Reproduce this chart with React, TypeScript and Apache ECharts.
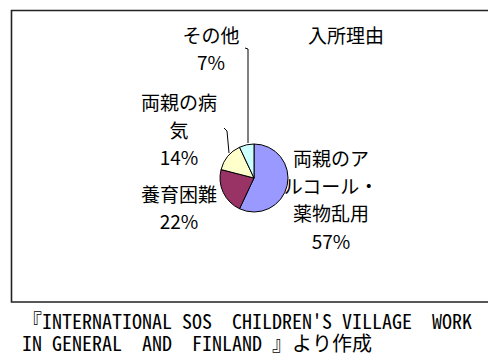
import React, { useEffect, useRef } from "react";
import * as echarts from "echarts";

const categories = [
  "両親のア\nルコール・\n薬物乱用",
  "養育困難",
  "両親の病\n気",
  "その他",
];
const percentValues = [57, 22, 14, 7];
const chartTitle = "入所理由";
const footerLines = [
  "『INTERNATIONAL SOS  CHILDREN'S VILLAGE  WORK",
  "IN GENERAL  AND  FINLAND 』より作成",
];

const sliceColors = ["#9999FF", "#993366", "#FFFFCC", "#CCFFFF"];
const labelCenters: [number, number][] = [
  [331, 199],
  [179, 207],
  [179, 129],
  [211, 48],
];
const leaderLines: ([number, number][] | null)[] = [
  null,
  null,
  [
    [229, 153],
    [227, 131],
    [224, 128],
  ],
  [
    [248, 143],
    [248, 49],
    [245, 48],
  ],
];

const FONT = "'Noto Sans CJK JP', 'MS UI Gothic', sans-serif";

export default function App() {
  const ref = useRef<HTMLDivElement>(null);
  useEffect(() => {
    if (!ref.current) return;
    const chart = echarts.init(ref.current, undefined, { renderer: "svg" });
    chart.setOption({
      animation: false,
      backgroundColor: "#ffffff",
      graphic: [
        {
          type: "rect",
          shape: { x: 11.5, y: 10.5, width: 490, height: 291.5 },
          style: { fill: "none", stroke: "#222", lineWidth: 1.6 },
          z: 0,
        },
        {
          type: "text",
          x: 346,
          y: 34,
          style: {
            text: chartTitle,
            font: `19px ${FONT}`,
            fill: "#000",
            textAlign: "center",
            textVerticalAlign: "middle",
          },
        },
        {
          type: "text",
          x: 22,
          y: 309.5,
          style: {
            text: footerLines.join("\n"),
            font: `20px 'Noto Sans Mono CJK JP', 'DejaVu Sans Mono', monospace`,
            lineHeight: 22,
            fill: "#000",
            textAlign: "left",
            textVerticalAlign: "top",
          },
        },
      ],
      series: [
        {
          type: "pie",
          center: [254, 178],
          radius: 34,
          startAngle: 90,
          clockwise: true,
          avoidLabelOverlap: false,
          itemStyle: { borderColor: "#000", borderWidth: 1 },
          label: {
            show: true,
            formatter: (p: any) => `${p.name}\n${p.value}%`,
            fontSize: 19,
            fontFamily: FONT,
            color: "#000",
            lineHeight: 27.5,
            align: "center",
          },
          labelLine: {
            show: true,
            lineStyle: { color: "#000", width: 1 },
          },
          labelLayout: (params: any) => {
            const i = params.dataIndex;
            const [cx, cy] = labelCenters[i];
            return {
              x: cx,
              y: cy,
              align: "center",
              verticalAlign: "middle",
              labelLinePoints: leaderLines[i] || [
                [cx, cy],
                [cx, cy],
                [cx, cy],
              ],
            };
          },
          data: categories.map((name, i) => ({
            name,
            value: percentValues[i],
            itemStyle: { color: sliceColors[i] },
            labelLine: { show: leaderLines[i] !== null },
          })),
        },
      ],
    });
    return () => chart.dispose();
  }, []);
  return (
    <div
      ref={ref}
      style={{ position: "fixed", left: 0, top: 0, width: 488, height: 353 }}
    />
  );
}
